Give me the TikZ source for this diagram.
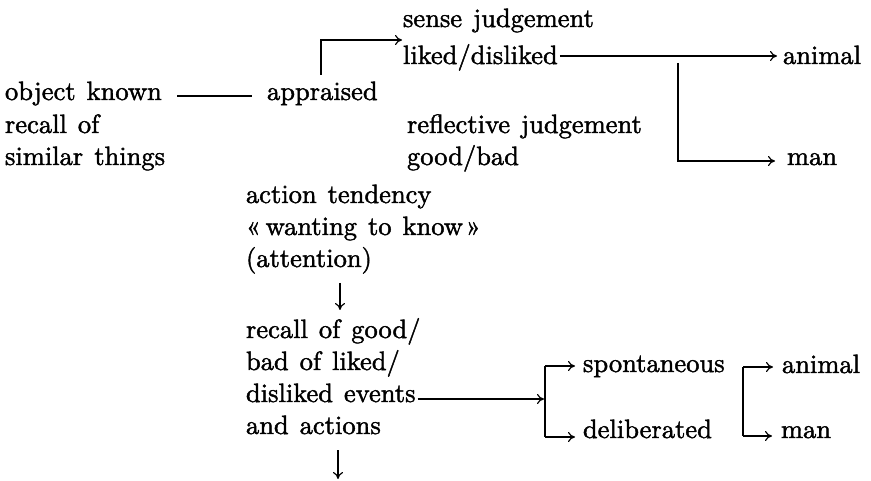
\documentclass[tikz,border=0pt]{standalone}
\usepackage{fontspec}
\setmainfont{lmroman10-regular.otf}[BoldFont=lmroman10-regular.otf,BoldFeatures={FakeBold=1.6}]
\usetikzlibrary{arrows.meta}
\newcommand\diagtextfont{\fontsize{26.5}{30}\selectfont\bfseries\spaceskip=11pt plus 2pt minus 1pt\relax}
\begin{document}
\begin{tikzpicture}[x=1pt,y=-1pt,
  txt/.style={anchor=base west,inner sep=0pt,outer sep=0pt,font=\diagtextfont},
  ln/.style={line width=1.2pt},
  arr/.style={line width=1.2pt,-{To[length=7pt,width=10pt]}}]
\useasboundingbox (0,0) rectangle (871,481);
% text
\node[txt] (sense) at (403,27) {sense judgement};
\node[txt] (liked) at (403,64) {liked/disliked};
\node[txt] (animalA) at (783,64) {animal};
\node[txt] (obj) at (5,100) {object known};
\node[txt] (appr) at (267,100) {appraised};
\node[txt] (recallA) at (5,133) {recall of};
\node[txt] (reflect) at (407,133) {reflective judgement};
\node[txt] (similar) at (5,165) {similar things};
\node[txt] (good) at (407,165) {good/bad};
\node[txt] (manA) at (787,165) {man};
\node[txt] (actA) at (246,203) {action tendency};
\node[txt] (actB) at (246,235) {«\kern5pt wanting to know\kern3pt»};
\node[txt] (actC) at (246,267) {(attention)};
\node[txt] (rcA) at (246,338) {recall of good/};
\node[txt] (rcB) at (246,370) {bad of liked/};
\node[txt] (rcC) at (246,402) {disliked events};
\node[txt] (rcD) at (246,434) {and actions};
\node[txt] (spont) at (583,372) {spontaneous};
\node[txt] (delib) at (583,438) {deliberated};
\node[txt] (animalB) at (782,373) {animal};
\node[txt] (manB) at (781,438) {man};
% coordinates
\coordinate (brA) at (678,63);
\coordinate (brBtop) at (545,366);
\coordinate (brBbot) at (545,437);
\coordinate (brCtop) at (743,367);
\coordinate (brCbot) at (743,436);
% connectors
\draw[ln] ([xshift=-90pt,yshift=4pt]appr.base west) -- ([xshift=-15pt,yshift=4pt]appr.base west);
\draw[arr] ([xshift=54pt,yshift=25pt]appr.base west) |- ([xshift=-1pt,yshift=-13pt]sense.base west);
\draw[arr] ([xshift=2pt,yshift=8pt]liked.base east) -- ([xshift=-6pt,yshift=8pt]animalA.base west);
\draw[arr] (brA) |- ([xshift=-12pt,yshift=4pt]manA.base west);
\draw[arr] ([xshift=94pt,yshift=-16pt]actC.base west) -- ([xshift=94pt,yshift=28pt]rcA.base west);
\draw[arr] ([xshift=2pt,yshift=3pt]rcC.base east) -- ([xshift=-1pt,yshift=3pt]rcC.base -| brBtop);
\draw[ln] (brBtop) -- (brBbot);
\draw[arr] (brBtop) -- ([xshift=-8pt,yshift=6pt]spont.base west);
\draw[arr] (brBbot) -- ([xshift=-8pt,yshift=1pt]delib.base west);
\draw[ln] (brCtop) -- (brCbot);
\draw[arr] (brCtop) -- ([xshift=-9pt,yshift=6pt]animalB.base west);
\draw[arr] (brCbot) -- ([xshift=-9pt,yshift=2pt]manB.base west);
\draw[arr] ([xshift=92pt,yshift=-16pt]rcD.base west) -- ([xshift=92pt,yshift=-45pt]rcD.base west);
\end{tikzpicture}
\end{document}
